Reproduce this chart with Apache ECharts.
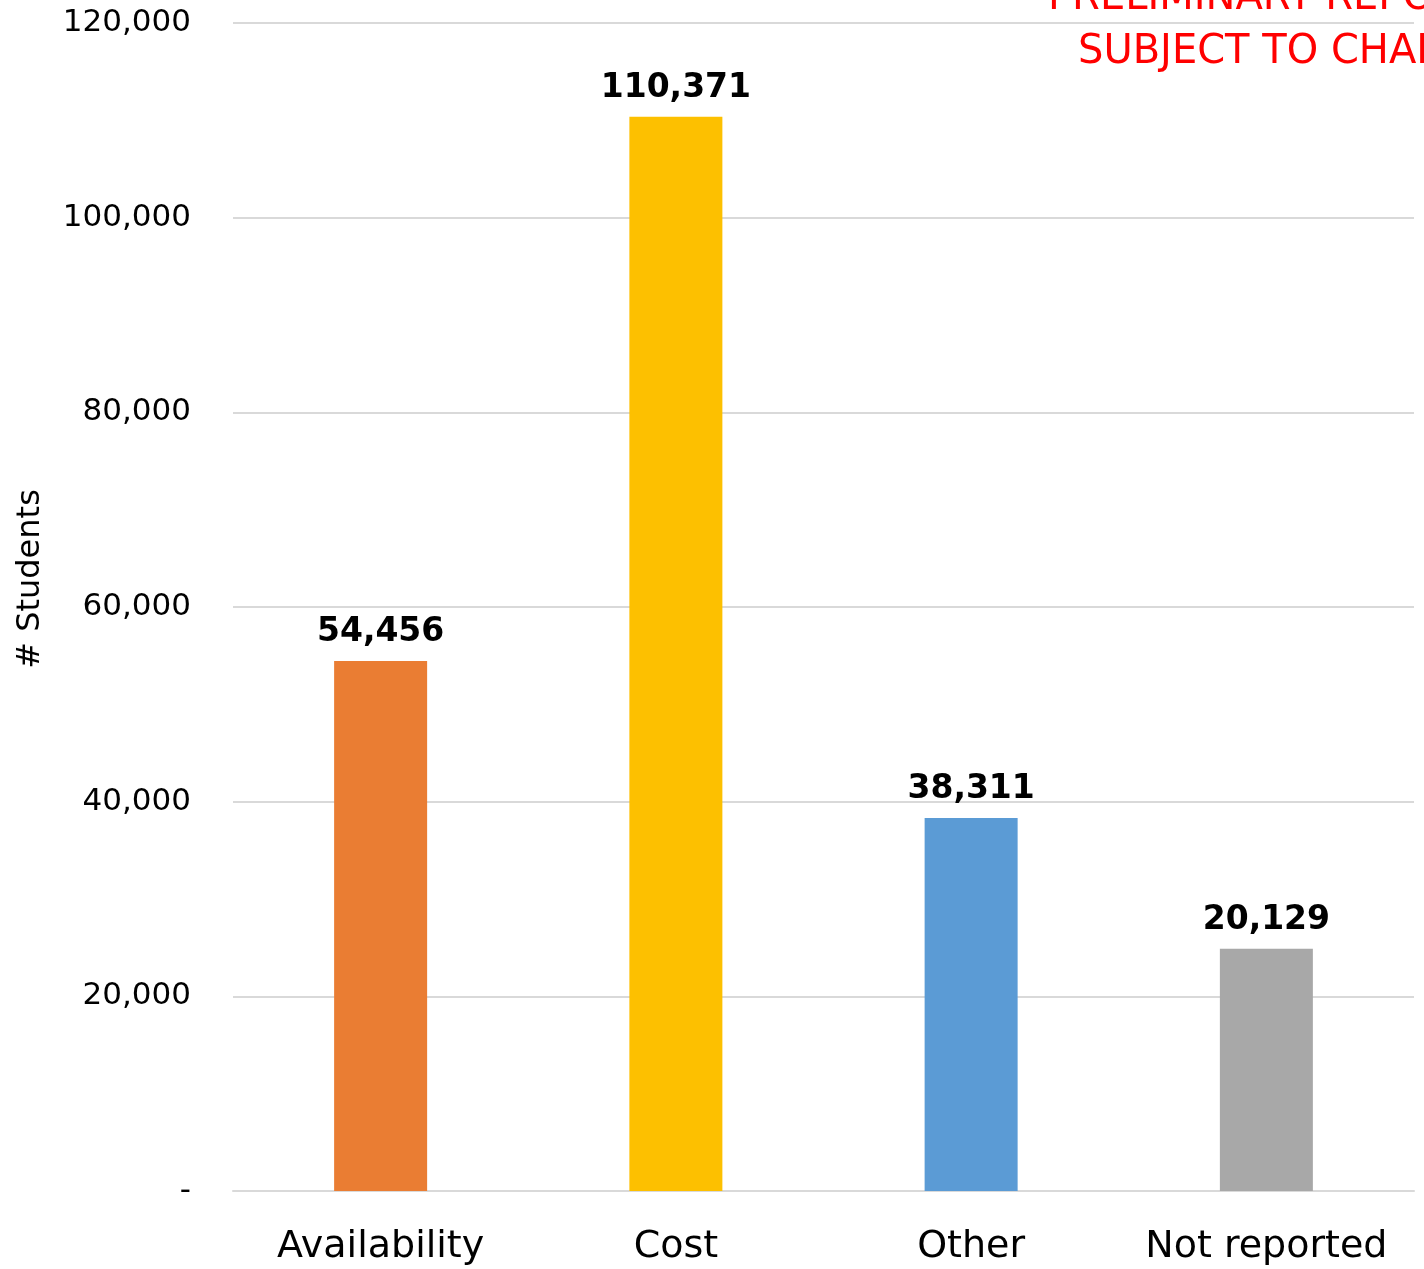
<!DOCTYPE html>
<html>
<head>
<meta charset="utf-8">
<script src="https://cdn.jsdelivr.net/npm/echarts@6/dist/echarts.min.js"></script>
<style>
  html, body { margin: 0; padding: 0; background: #fff; }
  #main { width: 1424px; height: 1269px; }
</style>
</head>
<body>
<div id="main"></div>
<script>
// categories and values
var categories = ['Availability', 'Cost', 'Other', 'Not reported'];
var barValues = [54456, 110371, 38311, 24900];
var barLabels = ['54,456', '110,371', '38,311', '20,129'];
var barColors = ['#ea7d33', '#fdc000', '#5b9bd5', '#a8a8a8'];
var yTicks = [0, 20000, 40000, 60000, 80000, 100000, 120000];

var fontFam = '"Century Gothic", "URW Gothic", "DejaVu Sans", sans-serif';

var myChart = echarts.init(document.getElementById('main'));
window.addEventListener('resize', function () { myChart.resize(); }, false);

var option = {
    backgroundColor: '#ffffff',
    animation: false,
    textStyle: { fontFamily: fontFam },
    grid: { left: 233, right: 10, top: 23, bottom: 78, containLabel: false },
    xAxis: {
        type: 'category',
        data: categories,
        axisLine: { show: true, lineStyle: { color: '#d9d9d9', width: 2 } },
        axisTick: { show: false },
        axisLabel: { color: '#000', fontSize: 38, margin: 37, interval: 0, fontFamily: fontFam }
    },
    yAxis: {
        type: 'value',
        min: yTicks[0],
        max: yTicks[yTicks.length - 1],
        interval: 20000,
        name: '# Students',
        nameLocation: 'middle',
        nameRotate: 90,
        nameGap: 186,
        nameTextStyle: { color: '#000', fontSize: 32, fontFamily: fontFam, padding: [0, 0, 0, 56] },
        axisLine: { show: false },
        axisTick: { show: false },
        splitLine: { lineStyle: { color: '#d9d9d9', width: 2 } },
        axisLabel: {
            color: '#000',
            fontSize: 31,
            margin: 42,
            fontFamily: fontFam,
            padding: [4, 0, 0, 0],
            formatter: function (v) {
                return v === 0 ? '-' : v.toLocaleString('en-US');
            }
        }
    },
    series: [{
        type: 'bar',
        barWidth: '31.5%',
        data: barValues.map(function (v, i) {
            return { value: v, itemStyle: { color: barColors[i] } };
        }),
        label: {
            show: true,
            position: 'top',
            distance: 12,
            color: '#000',
            fontSize: 33,
            fontWeight: 'bold',
            fontFamily: fontFam,
            formatter: function (p) { return barLabels[p.dataIndex]; }
        }
    }],
    graphic: [
        {
            type: 'text', left: 1048, top: -21,
            style: { text: 'PRELIMINARY REPORT', fill: '#ff0000', font: '40px ' + fontFam }
        },
        {
            type: 'text', left: 1078, top: 33,
            style: { text: 'SUBJECT TO CHANGE', fill: '#ff0000', font: '40px ' + fontFam }
        }
    ]
};
myChart.setOption(option);
</script>
</body>
</html>
